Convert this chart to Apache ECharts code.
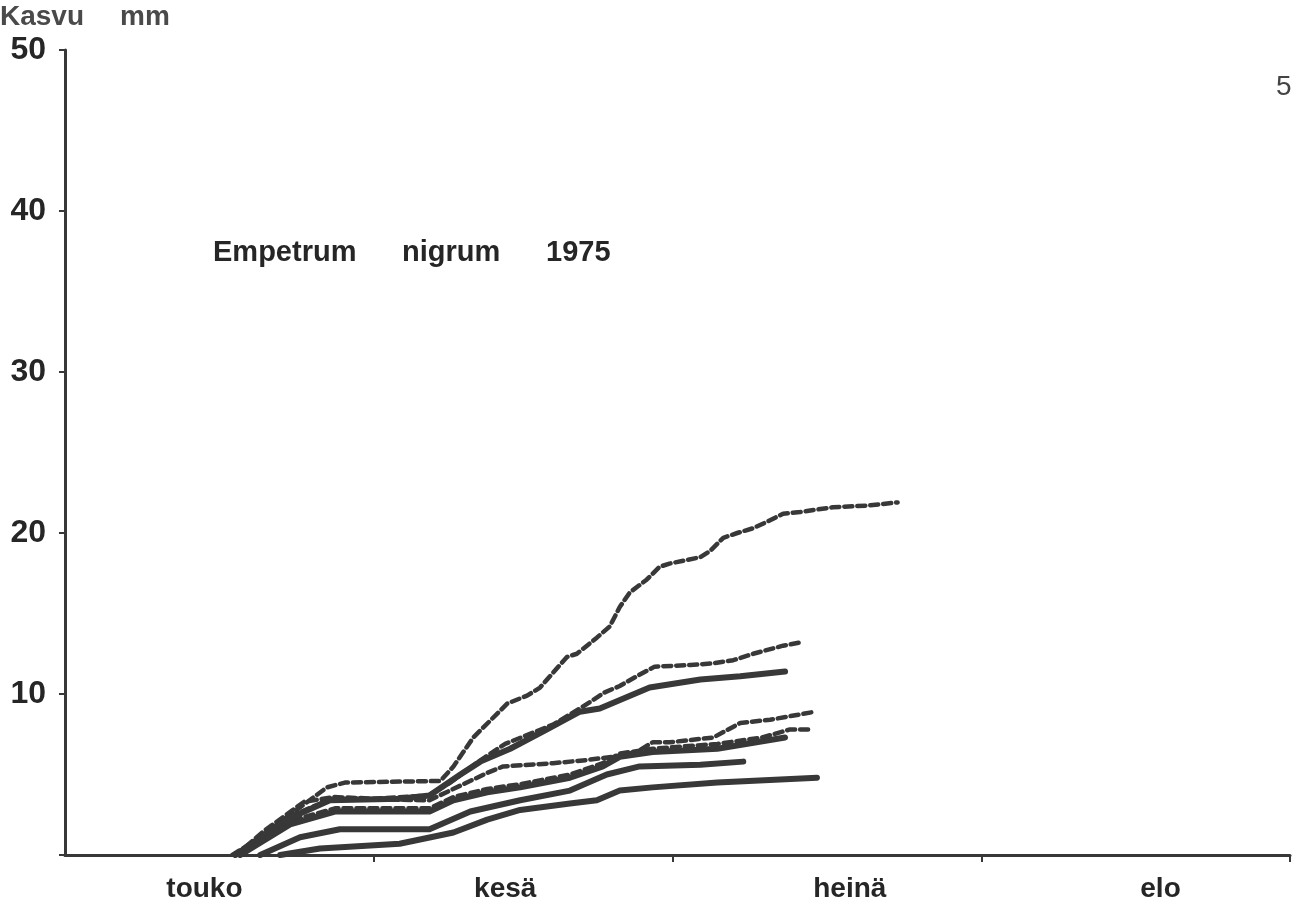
<!DOCTYPE html>
<html>
<head>
<meta charset="utf-8">
<script src="https://cdn.jsdelivr.net/npm/echarts@6/dist/echarts.min.js"></script>
<style>
html,body{margin:0;padding:0;background:#fff;}
#chart{width:1298px;height:910px;}
</style>
</head>
<body>
<div id="chart"></div>
<script>
// x values are days counted from 1 May (touko = May)
const monthNames = ['touko', 'kesä', 'heinä', 'elo'];
const monthLabelPos = [14, 44.2, 78.8, 110];
const monthEnds = [31, 61, 92, 123];
const yTicks = [0, 10, 20, 30, 40, 50];

const lineA = [[16.8,0],[19.1,0.9],[22.6,2.5],[26.3,4.2],[28.1,4.5],[37.7,4.6],[39.0,5.5],[41.0,7.3],[44.4,9.4],[46.4,9.9],[47.7,10.4],[50.4,12.3],[51.4,12.5],[53.4,13.5],[54.7,14.2],[55.7,15.4],[56.7,16.3],[58.4,17.1],[59.7,17.9],[60.7,18.1],[63.8,18.5],[64.8,18.9],[66.1,19.7],[67.5,20.0],[69.1,20.3],[70.5,20.7],[72.1,21.2],[73.8,21.3],[77.1,21.6],[80.5,21.7],[83.6,21.9]];
const lineB = [[17.2,0],[20,1.5],[24,3.3],[27,3.6],[31,3.5],[36.5,3.7],[38.7,4.5],[41.5,5.8],[44.2,6.9],[47,7.6],[49,8.1],[51.7,9.1],[54.2,10.1],[55.7,10.5],[57.4,11.1],[59.2,11.7],[62.8,11.8],[65,11.9],[67.1,12.1],[69.1,12.5],[72.1,13.0],[73.8,13.2]];
const lineC = [[17.1,0],[22.6,2.3],[26.6,3.4],[33.6,3.5],[36.6,3.7],[39.7,5.0],[41.7,5.8],[44.7,6.6],[48.4,7.8],[51.7,8.9],[53.7,9.1],[58.7,10.4],[63.8,10.9],[67.8,11.1],[72.3,11.4]];
const lineD = [[17.3,0],[22.6,2.4],[26.8,3.5],[36.6,3.4],[42.4,5.1],[44.0,5.5],[49.0,5.7],[52.4,5.9],[55.0,6.1],[57.4,6.4],[59.0,7.0],[60.7,7.0],[65.1,7.3],[67.8,8.2],[70.8,8.4],[75.3,8.9]];
const lineE = [[17.4,0],[22.6,2.1],[27.1,2.9],[36.6,2.9],[39.0,3.6],[42.4,4.1],[45.7,4.4],[50.7,5.0],[54.0,5.7],[55.7,6.3],[59.0,6.6],[65.5,6.9],[70.0,7.3],[72.8,7.8],[75.1,7.8]];
const lineF = [[17.6,0],[22.6,1.9],[27.1,2.7],[36.6,2.7],[39.0,3.4],[42.4,3.9],[45.7,4.2],[50.7,4.8],[54.0,5.5],[55.7,6.1],[59.0,6.4],[65.5,6.6],[72.3,7.3]];
const lineG = [[19.6,0],[23.6,1.1],[27.6,1.6],[36.6,1.6],[40.7,2.7],[45.7,3.4],[50.7,4.0],[54.4,5.0],[57.7,5.5],[63.8,5.6],[68.1,5.8]];
const lineH = [[21.6,0],[25.6,0.4],[33.6,0.7],[39.0,1.4],[42.4,2.2],[45.7,2.8],[50.7,3.2],[53.4,3.4],[55.7,4.0],[59.0,4.2],[65.5,4.5],[75.5,4.8]];

const ink = '#383838';
const solid = {color: ink, width: 6, type: 'solid', cap: 'round', join: 'round'};
const dashed = {color: ink, width: 4.5, type: [8, 5], cap: 'round', join: 'round'};
function mk(name, data, style) {
  return {name: name, type: 'line', data: data, symbol: 'none', smooth: false,
    lineStyle: style, itemStyle: {color: ink}, emphasis: {disabled: true}, silent: true, z: 3};
}
const series = [
  mk('A', lineA, dashed), mk('B', lineB, dashed), mk('D', lineD, dashed), mk('E', lineE, dashed),
  mk('C', lineC, solid), mk('F', lineF, solid), mk('G', lineG, solid), mk('H', lineH, solid)
];

const font = '"Liberation Sans", Arial, sans-serif';
const chart = echarts.init(document.getElementById('chart'), null, {renderer: 'canvas'});
chart.setOption({
  animation: false,
  backgroundColor: '#ffffff',
  grid: {left: 65, right: 8, top: 50, bottom: 55, containLabel: false},
  xAxis: {
    type: 'value', min: 0, max: 123,
    axisLine: {show: true, onZero: false, lineStyle: {color: ink, width: 3}},
    axisTick: {show: true, customValues: monthEnds, length: 7, inside: false, lineStyle: {color: ink, width: 2}},
    axisLabel: {show: true, customValues: monthLabelPos, margin: 20,
      formatter: function (v) { const i = monthLabelPos.indexOf(v); return i >= 0 ? monthNames[i] : ''; },
      color: '#262626', fontSize: 28, fontWeight: 'bold', fontFamily: font},
    splitLine: {show: false}
  },
  yAxis: {
    type: 'value', min: 0, max: 50, interval: 10,
    axisLine: {show: true, onZero: false, lineStyle: {color: ink, width: 3}},
    axisTick: {show: true, length: 6, lineStyle: {color: ink, width: 2}},
    axisLabel: {show: true, margin: 19,
      formatter: function (v) { return v === 0 ? '' : String(v); },
      color: '#262626', fontSize: 32, fontWeight: 'bold', fontFamily: font},
    splitLine: {show: false}
  },
  graphic: [
    {type: 'text', left: 0, top: 3, style: {text: 'Kasvu', fill: '#4a4a4a', fontSize: 28, fontWeight: 'bold', fontFamily: font}},
    {type: 'text', left: 120, top: 3, style: {text: 'mm', fill: '#4a4a4a', fontSize: 28, fontWeight: 'bold', fontFamily: font}},
    {type: 'text', left: 213, top: 238, style: {text: 'Empetrum', fill: '#262626', fontSize: 29, fontWeight: 'bold', fontFamily: font}},
    {type: 'text', left: 402, top: 238, style: {text: 'nigrum', fill: '#262626', fontSize: 29, fontWeight: 'bold', fontFamily: font}},
    {type: 'text', left: 546, top: 238, style: {text: '1975', fill: '#262626', fontSize: 29, fontWeight: 'bold', fontFamily: font}},
    {type: 'text', left: 1276, top: 73, style: {text: '5', fill: '#444', fontSize: 28, fontFamily: font}}
  ],
  series: series
});
</script>
</body>
</html>
